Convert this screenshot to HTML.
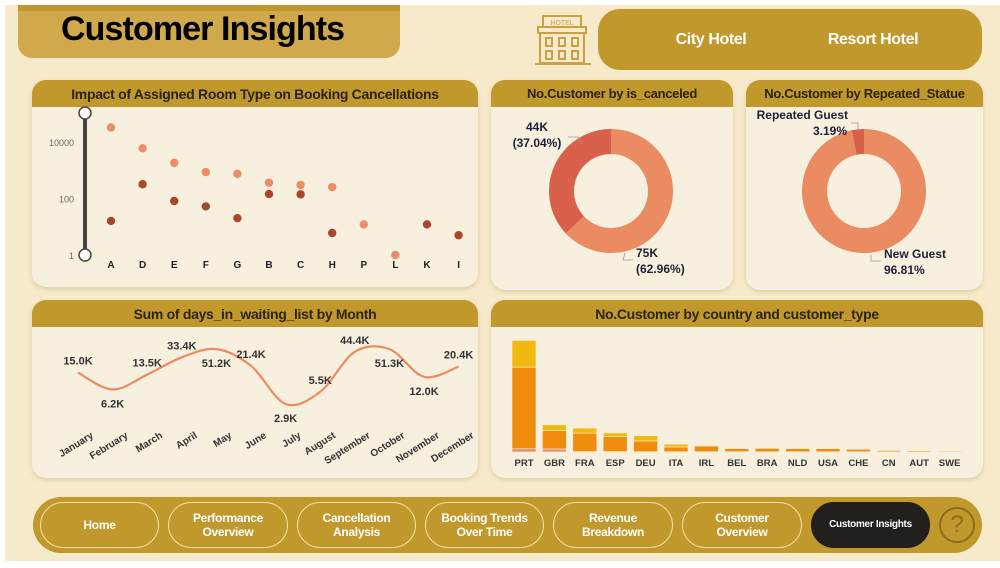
<!DOCTYPE html>
<html><head><meta charset="utf-8"><style>
*{margin:0;padding:0;box-sizing:border-box}
body{width:1000px;height:568px;background:#fff;font-family:"Liberation Sans",sans-serif;position:relative;overflow:hidden}
#page{position:absolute;left:5px;top:5px;width:995px;height:556px;background:#f6eacb}
.card{position:absolute;background:#f8f0df;border-radius:14px;box-shadow:0 2px 4px rgba(150,120,50,.25);overflow:hidden}
.hdr{height:27px;background:#c1982c;color:#2a2410;font-weight:bold;font-size:14px;text-align:center;line-height:28px;letter-spacing:-.3px;white-space:nowrap}
.nav{position:absolute;top:502px;height:46px;border:1px solid #f3dea0;border-radius:23px;color:#fff;font-weight:bold;font-size:12px;letter-spacing:-.3px;text-align:center;display:flex;align-items:center;justify-content:center;line-height:14px}
svg text{font-family:"Liberation Sans",sans-serif}
</style></head><body>
<div id="page"></div>
<div style="position:absolute;left:18px;top:5px;width:382px;height:53px;background:#cfa94c;border-radius:0 0 14px 14px;border-top:6px solid #bf972e"></div>
<div style="position:absolute;left:61px;top:10px;font-weight:bold;font-size:34px;letter-spacing:-0.9px;color:#000">Customer Insights</div>
<svg style="position:absolute;left:535px;top:13px" width="56" height="54" viewBox="0 0 56 54">
<g fill="none" stroke="#c8a143" stroke-width="2"><rect x="8" y="3" width="38" height="11"/><rect x="3" y="14" width="48" height="6"/><rect x="5" y="20" width="44" height="30"/><line x1="0" y1="51" x2="56" y2="51"/>
<rect x="11" y="25" width="6" height="8"/><rect x="24" y="25" width="6" height="8"/><rect x="37" y="25" width="6" height="8"/><rect x="11" y="38" width="6" height="8"/><rect x="24" y="38" width="6" height="8"/><rect x="37" y="38" width="6" height="8"/></g>
<text x="27" y="12" font-size="7" fill="#c8a143" text-anchor="middle">HOTEL</text></svg>
<div style="position:absolute;left:598px;top:9px;width:384px;height:61px;background:#c1982c;border-radius:22px"></div>
<div style="position:absolute;left:651px;top:31px;width:120px;text-align:center;color:#fff;font-weight:bold;font-size:16px;letter-spacing:-.4px">City Hotel</div>
<div style="position:absolute;left:803px;top:31px;width:140px;text-align:center;color:#fff;font-weight:bold;font-size:16px;letter-spacing:-.4px">Resort Hotel</div>

<div class="card" style="left:32px;top:80px;width:446px;height:207px"><div class="hdr">Impact of Assigned Room Type on Booking Cancellations</div></div>
<div class="card" style="left:491px;top:80px;width:242px;height:210px"><div class="hdr" style="font-size:13px">No.Customer by is_canceled</div></div>
<div class="card" style="left:746px;top:80px;width:237px;height:210px"><div class="hdr" style="font-size:13px">No.Customer by Repeated_Statue</div></div>
<div class="card" style="left:32px;top:300px;width:446px;height:178px"><div class="hdr">Sum of days_in_waiting_list by Month</div></div>
<div class="card" style="left:491px;top:300px;width:492px;height:178px"><div class="hdr">No.Customer by country and customer_type</div></div>

<svg id="charts" style="position:absolute;left:0;top:0" width="1000" height="568"></svg>

<div style="position:absolute;left:33px;top:497px;width:949px;height:56px;background:#c1982c;border-radius:28px"></div>
<div class="nav" style="left:40px;width:119px">Home</div>
<div class="nav" style="left:168px;width:120px">Performance<br>Overview</div>
<div class="nav" style="left:297px;width:119px">Cancellation<br>Analysis</div>
<div class="nav" style="left:425px;width:119px">Booking Trends<br>Over Time</div>
<div class="nav" style="left:553px;width:120px">Revenue<br>Breakdown</div>
<div class="nav" style="left:682px;width:120px">Customer<br>Overview</div>
<div class="nav" style="left:811px;width:119px;background:#231f1c;border-color:#231f1c;font-size:10px">Customer Insights</div>
<div style="position:absolute;left:939px;top:507px;width:36px;height:36px;border:2px solid #8a6d1e;border-radius:50%;color:#8a6d1e;font-size:24px;text-align:center;line-height:32px">?</div>

<script>
const roomTypes=['A','D','E','F','G','B','C','H','P','L','K','I'];
const notCanceled=[32000,5900,1800,850,740,360,300,250,12,1,null,null];
const canceled=[16,316,81,52,20,142,139,6,null,null,12,5];
const roomTicks=[1,100,10000];
const months=['January','February','March','April','May','June','July','August','September','October','November','December'];
const waitVals=[15.0,6.2,13.5,33.4,51.2,21.4,2.9,5.5,44.4,51.3,12.0,20.4];
const waitLabelBelow=[0,1,0,0,1,0,1,0,0,1,1,0];
const countries=['PRT','GBR','FRA','ESP','DEU','ITA','IRL','BEL','BRA','NLD','USA','CHE','CN','AUT','SWE'];
const typeA=[1.4,1.3,0.2,0.2,0.1,0.1,0.1,0.1,0.1,0.1,0.1,0.1,0.1,0.1,0.1];
const typeB=[35.5,8.0,8.0,6.5,4.7,2.1,2.5,1.4,1.5,1.4,1.4,1.1,0.6,0.5,0.4];
const typeC=[11.6,2.5,2.2,1.6,2.3,1.2,0.3,0.2,0.1,0.1,0.1,0.1,0.1,0.1,0.1];
const cancelVals=[75,44];
const cancelLabels=['75K\n(62.96%)','44K\n(37.04%)'];
const repeatVals=[96.81,3.19];

const S=document.getElementById('charts');const NS='http://www.w3.org/2000/svg';
function mk(t,a,p){const e=document.createElementNS(NS,t);for(const k in a)e.setAttribute(k,a[k]);(p||S).appendChild(e);return e;}

// scatter
const sx=i=>111+i*31.6, sy=v=>255-Math.log10(v)*28.3;
let e=mk('line',{x1:85,y1:113,x2:85,y2:255,stroke:'#4a4440','stroke-width':4});

[113,255].forEach(y=>{e=mk('circle',{cx:85,cy:y,r:6,fill:'#fff',stroke:'#4a4440','stroke-width':1.5});});
roomTicks.forEach(t=>{e=mk('text',{x:74,y:sy(t)+4,'font-size':9,fill:'#666','text-anchor':'end'});e.textContent=t;});
roomTypes.forEach((r,i)=>{
 e=mk('text',{x:sx(i),y:268,'font-size':10,'font-weight':'bold',fill:'#222','text-anchor':'middle'});e.textContent=r;
 if(notCanceled[i]!=null){e=mk('circle',{cx:sx(i),cy:sy(notCanceled[i]),r:4.2,fill:'#ec8d64'});}
 if(canceled[i]!=null){e=mk('circle',{cx:sx(i),cy:sy(canceled[i]),r:4.2,fill:'#a9472a'});}
});

// donuts
function donut(cx,cy,vals,cols,name){
 const tot=vals.reduce((a,b)=>a+b,0);let a0=0;
 vals.forEach((v,i)=>{const a1=a0+v/tot*2*Math.PI;const R=62,r=37;
  const p=(ang,rad)=>[cx+rad*Math.sin(ang),cy-rad*Math.cos(ang)];const lg=(a1-a0)>Math.PI?1:0;
  const [x1,y1]=p(a0,R),[x2,y2]=p(a1,R),[x3,y3]=p(a1,r),[x4,y4]=p(a0,r);
  e=mk('path',{d:`M${x1},${y1}A${R},${R} 0 ${lg} 1 ${x2},${y2}L${x3},${y3}A${r},${r} 0 ${lg} 0 ${x4},${y4}Z`,fill:cols[i]});
  a0=a1;});
}
donut(611,191,cancelVals,['#eb8b62','#d9614b'],'canceled');
donut(864,191,repeatVals,['#eb8b62','#d9614b'],'repeated');
function lbl(x,y,lines,anchor){lines.forEach((l,k)=>{e=mk('text',{x:x,y:y+k*16,'font-size':12,'font-weight':'bold',fill:'#1f1f35','text-anchor':anchor});e.textContent=l;});}
lbl(537,131,cancelLabels[1].split('\n'),'middle');
lbl(636,257,cancelLabels[0].split('\n'),'start');
lbl(848,119,['Repeated Guest'],'end');lbl(847,135,[repeatVals[1].toFixed(2)+'%'],'end');
lbl(884,258,['New Guest',repeatVals[0].toFixed(2)+'%'],'start');
mk('path',{d:'M568,137 L578,137 L582,144',stroke:'#999',fill:'none','stroke-width':.8});
mk('path',{d:'M625,253 L623,260 L633,260',stroke:'#999',fill:'none','stroke-width':.8});
mk('path',{d:'M851,123 L858,123 L858,131',stroke:'#999',fill:'none','stroke-width':.8});
mk('path',{d:'M871,255 L871,261 L881,261',stroke:'#999',fill:'none','stroke-width':.8});

// line chart
const lx=i=>78+i*34.6, ly=v=>404-(Math.log10(v)-Math.log10(2.9))*44;
let pts=waitVals.map((v,i)=>[lx(i),ly(v)]);let d='M'+pts[0];
for(let i=0;i<pts.length-1;i++){const p0=pts[i-1]||pts[i],p1=pts[i],p2=pts[i+1],p3=pts[i+2]||p2;
 d+=` C${p1[0]+(p2[0]-p0[0])/6},${p1[1]+(p2[1]-p0[1])/6} ${p2[0]-(p3[0]-p1[0])/6},${p2[1]-(p3[1]-p1[1])/6} ${p2[0]},${p2[1]}`;}
e=mk('path',{d:d,fill:'none',stroke:'#eb8b62','stroke-width':2.2});
waitVals.forEach((v,i)=>{
 e=mk('text',{x:lx(i),y:ly(v)+(waitLabelBelow[i]?18:-8),'font-size':11,'font-weight':'bold',fill:'#333','text-anchor':'middle'});e.textContent=v.toFixed(1)+'K';
 e=mk('text',{x:lx(i)+16,y:437,'font-size':10,'font-weight':'bold',fill:'#333','text-anchor':'end',transform:`rotate(-32 ${lx(i)+16} 437)`});e.textContent=months[i];
});

// bar chart
const bx=i=>512+i*30.4, bw=24, base=452, bs=v=>v*2.3;
countries.forEach((c,i)=>{let y=base;
 [[typeA,'#e39071'],[typeB,'#ef8c0c'],[typeC,'#f1b80f']].forEach(([arr,col])=>{const h=bs(arr[i]);y-=h;
  e=mk('rect',{x:bx(i),y:y,width:bw,height:h,fill:col,stroke:'#f8f0df','stroke-width':0.6});});
 e=mk('text',{x:bx(i)+bw/2,y:466,'font-size':9.5,'font-weight':'bold',fill:'#333','text-anchor':'middle'});e.textContent=c;
});
</script>
</body></html>
